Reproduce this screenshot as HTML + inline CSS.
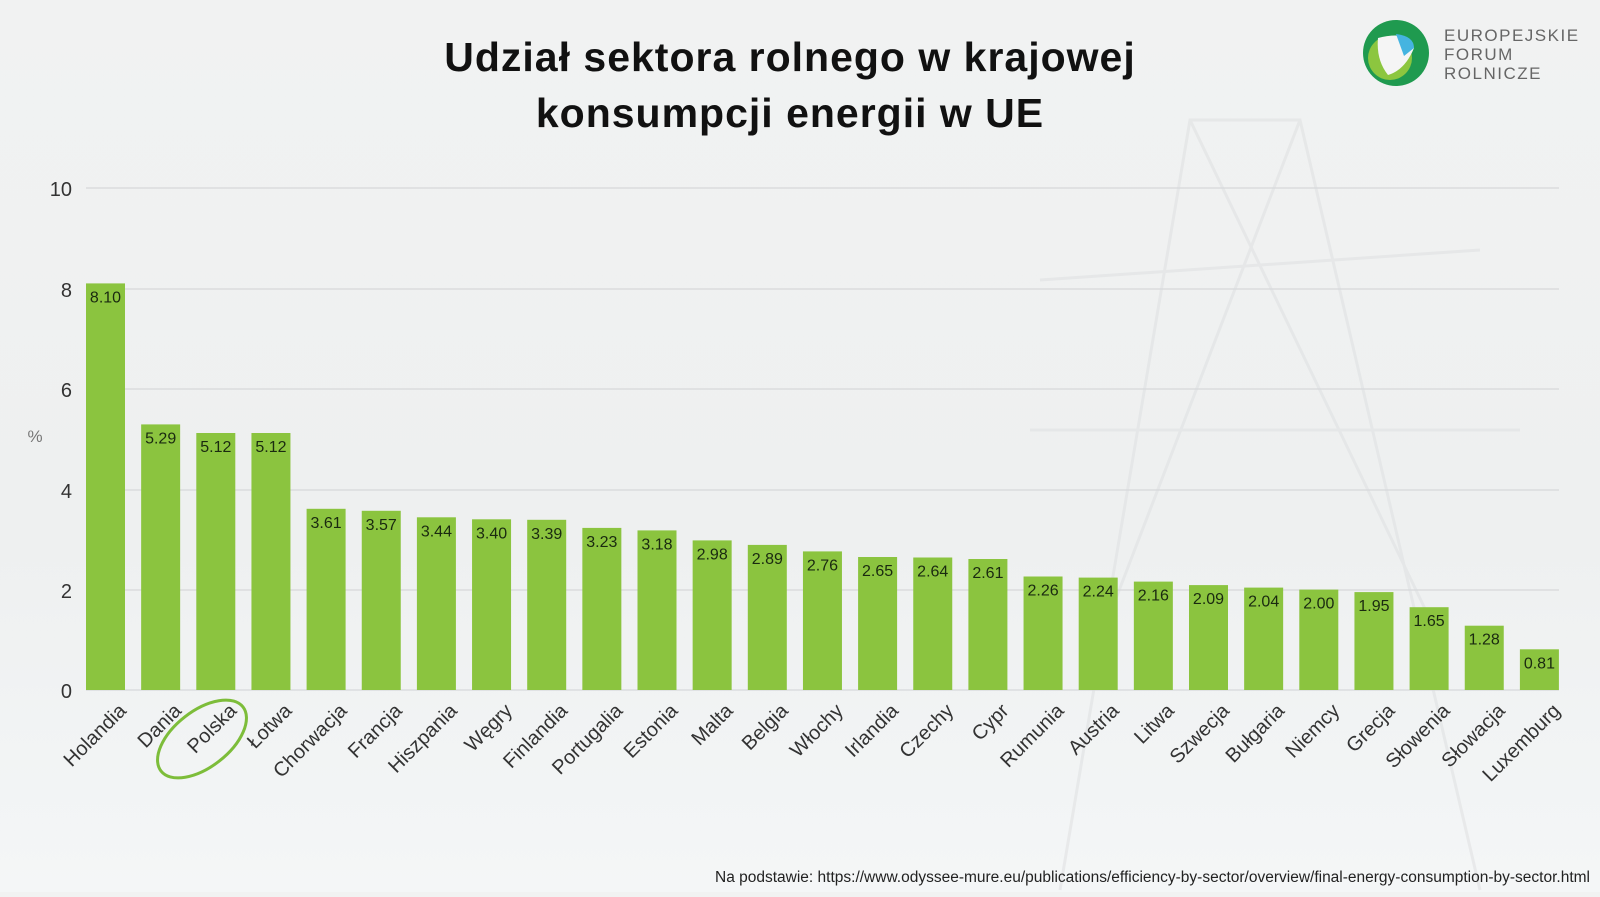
<!DOCTYPE html>
<html><head><meta charset="utf-8"><style>
html,body{margin:0;padding:0;}
body{width:1600px;height:892px;background:linear-gradient(180deg,#f1f2f2 0%,#eef0f0 60%,#f4f6f7 100%);overflow:hidden;font-family:"Liberation Sans",sans-serif;}
</style></head><body>
<svg width="1600" height="892" xmlns="http://www.w3.org/2000/svg" font-family="Liberation Sans, sans-serif">
<g stroke="#e2e4e5" stroke-width="3" fill="none" opacity="0.7">
<path d="M1060 890 L1190 120 L1300 120 L1480 890"/>
<path d="M1040 280 L1480 250 M1030 430 L1520 430 M1190 120 L1440 640 M1300 120 L1100 640"/>
</g>
<text x="790" y="71" text-anchor="middle" font-size="41" font-weight="bold" fill="#111" letter-spacing="1">Udział sektora rolnego w krajowej</text>
<text x="790" y="127" text-anchor="middle" font-size="41" font-weight="bold" fill="#111" letter-spacing="1">konsumpcji energii w UE</text>
<circle cx="1396" cy="53" r="33" fill="#1f9a4f"/>
<circle cx="1390" cy="58" r="22" fill="#8cc63f"/>
<path d="M1378 38 Q1410 30 1414 48 Q1405 70 1388 75 Q1376 60 1378 38Z" fill="#f5f5f5"/>
<path d="M1396 34 Q1414 36 1414 48 L1404 56Z" fill="#45b4e0"/>
<g font-size="17" fill="#666" letter-spacing="1.5">
<text x="1444" y="41">EUROPEJSKIE</text><text x="1444" y="60">FORUM</text><text x="1444" y="79">ROLNICZE</text></g>
<g stroke="#d6d8da" stroke-width="1.2">
<line x1="86" x2="1559" y1="188" y2="188"/><line x1="86" x2="1559" y1="289" y2="289"/><line x1="86" x2="1559" y1="389" y2="389"/><line x1="86" x2="1559" y1="490" y2="490"/><line x1="86" x2="1559" y1="590" y2="590"/><line x1="86" x2="1559" y1="690" y2="690"/></g>
<g font-size="20" fill="#333" text-anchor="end">
<text x="72" y="196">10</text><text x="72" y="297">8</text><text x="72" y="397">6</text><text x="72" y="498">4</text><text x="72" y="598">2</text><text x="72" y="698">0</text></g>
<text x="35" y="442" font-size="17" fill="#777" text-anchor="middle">%</text>
<g fill="#8bc43f">
<rect x="86" y="283.4" width="39" height="406.6"/>
<rect x="141.15" y="424.4" width="39" height="265.6"/>
<rect x="196.3" y="433" width="39" height="257"/>
<rect x="251.45" y="433" width="39" height="257"/>
<rect x="306.6" y="508.8" width="39" height="181.2"/>
<rect x="361.75" y="510.8" width="39" height="179.2"/>
<rect x="416.9" y="517.3" width="39" height="172.7"/>
<rect x="472.05" y="519.3" width="39" height="170.7"/>
<rect x="527.2" y="519.8" width="39" height="170.2"/>
<rect x="582.35" y="527.9" width="39" height="162.1"/>
<rect x="637.5" y="530.4" width="39" height="159.6"/>
<rect x="692.65" y="540.4" width="39" height="149.6"/>
<rect x="747.8" y="544.9" width="39" height="145.1"/>
<rect x="802.95" y="551.4" width="39" height="138.6"/>
<rect x="858.1" y="557" width="39" height="133"/>
<rect x="913.25" y="557.5" width="39" height="132.5"/>
<rect x="968.4" y="559" width="39" height="131"/>
<rect x="1023.55" y="576.5" width="39" height="113.5"/>
<rect x="1078.7" y="577.6" width="39" height="112.4"/>
<rect x="1133.85" y="581.6" width="39" height="108.4"/>
<rect x="1189" y="585.1" width="39" height="104.9"/>
<rect x="1244.15" y="587.6" width="39" height="102.4"/>
<rect x="1299.3" y="589.6" width="39" height="100.4"/>
<rect x="1354.45" y="592.1" width="39" height="97.9"/>
<rect x="1409.6" y="607.2" width="39" height="82.8"/>
<rect x="1464.75" y="625.7" width="39" height="64.3"/>
<rect x="1519.9" y="649.3" width="39" height="40.7"/>
</g>
<g font-size="16" fill="#1a2a10" text-anchor="middle">
<text x="105.5" y="302.4">8.10</text>
<text x="160.65" y="443.4">5.29</text>
<text x="215.8" y="452">5.12</text>
<text x="270.95" y="452">5.12</text>
<text x="326.1" y="527.8">3.61</text>
<text x="381.25" y="529.8">3.57</text>
<text x="436.4" y="536.3">3.44</text>
<text x="491.55" y="538.3">3.40</text>
<text x="546.7" y="538.8">3.39</text>
<text x="601.85" y="546.9">3.23</text>
<text x="657" y="549.4">3.18</text>
<text x="712.15" y="559.4">2.98</text>
<text x="767.3" y="563.9">2.89</text>
<text x="822.45" y="570.4">2.76</text>
<text x="877.6" y="576">2.65</text>
<text x="932.75" y="576.5">2.64</text>
<text x="987.9" y="578">2.61</text>
<text x="1043.05" y="595.5">2.26</text>
<text x="1098.2" y="596.6">2.24</text>
<text x="1153.35" y="600.6">2.16</text>
<text x="1208.5" y="604.1">2.09</text>
<text x="1263.65" y="606.6">2.04</text>
<text x="1318.8" y="608.6">2.00</text>
<text x="1373.95" y="611.1">1.95</text>
<text x="1429.1" y="626.2">1.65</text>
<text x="1484.25" y="644.7">1.28</text>
<text x="1539.4" y="668.3">0.81</text>
</g>
<g font-size="20" fill="#333" text-anchor="end">
<text transform="translate(117.5,702) rotate(-45)" dy="14">Holandia</text>
<text transform="translate(172.65,702) rotate(-45)" dy="14">Dania</text>
<text transform="translate(227.8,702) rotate(-45)" dy="14">Polska</text>
<text transform="translate(282.95,702) rotate(-45)" dy="14">Łotwa</text>
<text transform="translate(338.1,702) rotate(-45)" dy="14">Chorwacja</text>
<text transform="translate(393.25,702) rotate(-45)" dy="14">Francja</text>
<text transform="translate(448.4,702) rotate(-45)" dy="14">Hiszpania</text>
<text transform="translate(503.55,702) rotate(-45)" dy="14">Węgry</text>
<text transform="translate(558.7,702) rotate(-45)" dy="14">Finlandia</text>
<text transform="translate(613.85,702) rotate(-45)" dy="14">Portugalia</text>
<text transform="translate(669,702) rotate(-45)" dy="14">Estonia</text>
<text transform="translate(724.15,702) rotate(-45)" dy="14">Malta</text>
<text transform="translate(779.3,702) rotate(-45)" dy="14">Belgia</text>
<text transform="translate(834.45,702) rotate(-45)" dy="14">Włochy</text>
<text transform="translate(889.6,702) rotate(-45)" dy="14">Irlandia</text>
<text transform="translate(944.75,702) rotate(-45)" dy="14">Czechy</text>
<text transform="translate(999.9,702) rotate(-45)" dy="14">Cypr</text>
<text transform="translate(1055.05,702) rotate(-45)" dy="14">Rumunia</text>
<text transform="translate(1110.2,702) rotate(-45)" dy="14">Austria</text>
<text transform="translate(1165.35,702) rotate(-45)" dy="14">Litwa</text>
<text transform="translate(1220.5,702) rotate(-45)" dy="14">Szwecja</text>
<text transform="translate(1275.65,702) rotate(-45)" dy="14">Bułgaria</text>
<text transform="translate(1330.8,702) rotate(-45)" dy="14">Niemcy</text>
<text transform="translate(1385.95,702) rotate(-45)" dy="14">Grecja</text>
<text transform="translate(1441.1,702) rotate(-45)" dy="14">Słowenia</text>
<text transform="translate(1496.25,702) rotate(-45)" dy="14">Słowacja</text>
<text transform="translate(1551.4,702) rotate(-45)" dy="14">Luxemburg</text>
</g>
<ellipse cx="202" cy="739" rx="52" ry="28" transform="rotate(-38 202 739)" fill="none" stroke="#7dbd3a" stroke-width="3"/>
<text x="1590" y="882" font-size="15.5" fill="#222" text-anchor="end">Na podstawie: https://www.odyssee-mure.eu/publications/efficiency-by-sector/overview/final-energy-consumption-by-sector.html</text>
</svg>
</body></html>
